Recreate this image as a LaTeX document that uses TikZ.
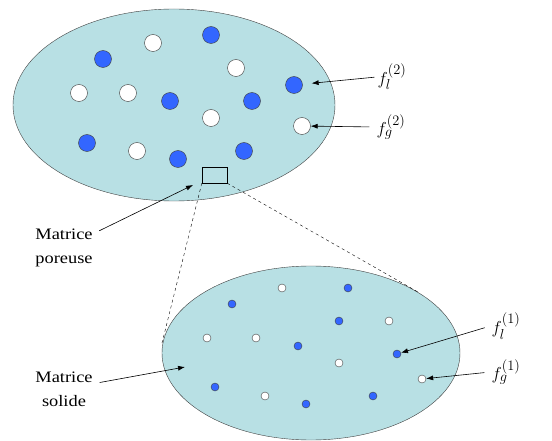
\documentclass[tikz,border=0pt]{standalone}
\usepackage{fontspec}
\setmainfont[FakeStretch=1.15]{Liberation Serif}
\usetikzlibrary{arrows.meta,positioning,shapes.geometric}
\definecolor{matfill}{RGB}{184,224,228}
\definecolor{liqblue}{RGB}{51,102,255}
\tikzset{
  zone/.style={draw=black!75, ellipse, fill=matfill, inner sep=0pt},
  liqbig/.style={circle, draw=black!75, fill=liqblue, minimum size=17pt, inner sep=0pt},
  gasbig/.style={liqbig, fill=white},
  liqsmall/.style={liqbig, minimum size=8pt},
  gassmall/.style={gasbig, minimum size=8pt},
  lbl/.style={align=center, inner sep=1pt, font=\fontsize{16}{24}\selectfont},
  flabel/.style={inner sep=1pt, font=\fontsize{19}{22}\selectfont},
  flow/.style={-{Latex[length=7pt,width=5pt]}, semithick},
  zoomline/.style={dashed, thin},
}

\begin{document}
\begin{tikzpicture}[x=1pt, y=-1pt]
  \useasboundingbox (0,0) rectangle (552,441);
  % macro scale
  \node[zone, minimum width=322pt, minimum height=192pt] (macro) at (174,105) {};
  \foreach \pos [count=\i] in {(103,59),(211,35),(294,85),(170,101),(252,101),(87,143),(178,159),(244,151)}
    \node[liqbig] (L\i) at \pos {};
  \foreach \pos [count=\i] in {(153,43),(236,68),(79,93),(128,93),(211,118),(302,126),(137,151)}
    \node[gasbig] (G\i) at \pos {};
  \node[draw, thin, minimum width=25pt, minimum height=16pt, inner sep=0pt] (zoomrect) at (214.5,175) {};
  % micro scale
  \node[zone, minimum width=298pt, minimum height=174pt] (micro) at (311,353) {};
  \foreach \pos [count=\i] in {(348,288),(232,304),(339,321),(298,346),(397,354),(215,387),(306,404),(373,396)}
    \node[liqsmall] (l\i) at \pos {};
  \foreach \pos [count=\i] in {(282,288),(389,321),(207,338),(256,338),(339,363),(422,379),(265,396)}
    \node[gassmall] (g\i) at \pos {};
  \coordinate (zoomL) at (162,343);
  \coordinate (zoomR) at (418,292);
  \draw[zoomline] (zoomrect.south west) -- (zoomL);
  \draw[zoomline] (zoomrect.south east) -- (zoomR);
  % labels
  \node[flabel] (fl2) at (392,77) {$f_l^{(2)}$};
  \node[flabel] (fg2) at (391,127) {$f_g^{(2)}$};
  \node[flabel] (fl1) at (506,326) {$f_l^{(1)}$};
  \node[flabel] (fg1) at (506,372) {$f_g^{(1)}$};
  \node[lbl] (poreuse) at (64,248) {Matrice\\poreuse};
  \node[lbl] (solide) at (64,389) {Matrice\\solide};
  \coordinate (poreHead) at (193,185);
  \coordinate (solideHead) at (185,367);
  \draw[flow, shorten >=9pt, shorten <=2pt] (fl2.west) -- (L3);
  \draw[flow, shorten <=6pt] (fg2.west) -- (G6);
  \draw[flow, shorten <=6pt] (fl1.west) -- (l5);
  \draw[flow, shorten <=6pt] (fg1.west) -- (g6);
  \draw[flow, shorten <=6pt] (poreuse) -- (poreHead);
  \draw[flow, shorten <=6pt] (solide) -- (solideHead);
\end{tikzpicture}
\end{document}
